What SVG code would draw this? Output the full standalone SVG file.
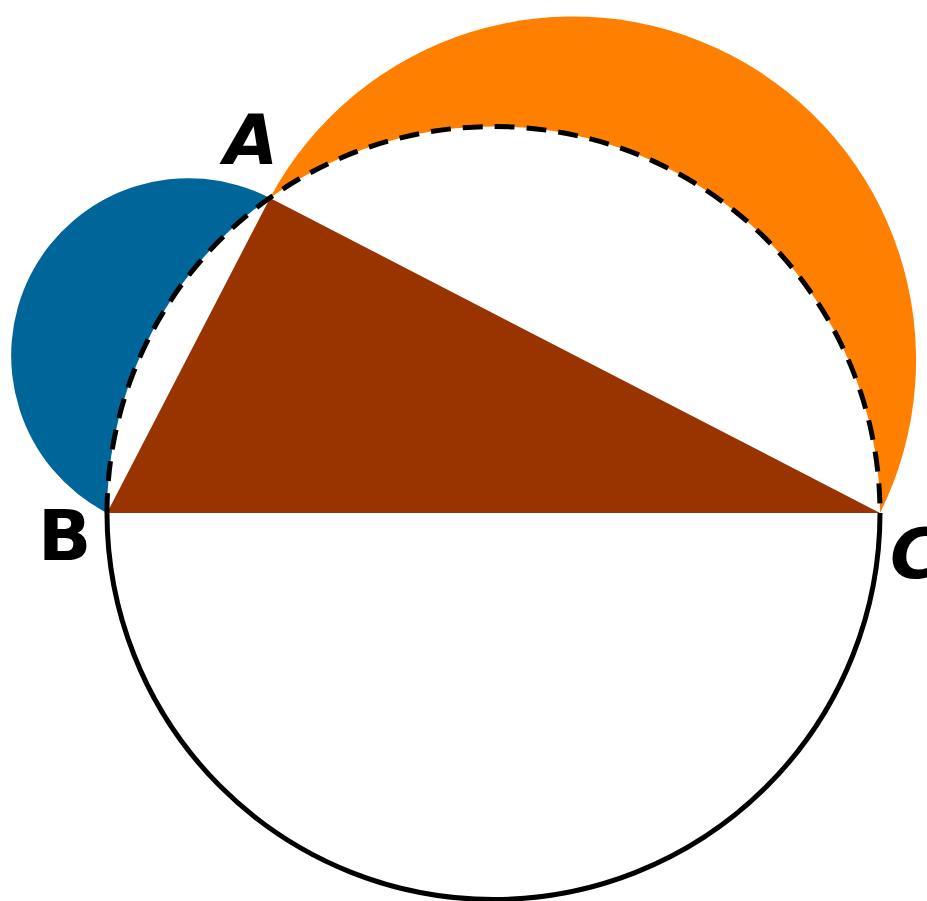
<svg xmlns="http://www.w3.org/2000/svg" width="927" height="901" viewBox="0 0 927 901">
<style>
.lbl{font-family:"DejaVu Sans","Liberation Sans",sans-serif;font-weight:bold;font-size:70px;fill:#000}
.arc{fill:none;stroke:#000;stroke-width:5}
</style>
<rect width="927" height="901" fill="#fff"/>
<g id="lune-ab"><path d="M107,513 A177.3,177.3 0 0 1 270,198 Z" fill="#006699"/></g>
<g id="lune-ac"><path d="M270,198 A343.3,343.3 0 0 1 880,513 Z" fill="#FF8000"/></g>
<g id="circle-fill"><circle cx="493.5" cy="513" r="386.5" fill="#fff"/></g>
<g id="triangle"><path d="M107,513 L270,198 L880,513 Z" fill="#993300"/></g>
<g id="connectors">
<path class="arc" d="M107,513 A386.5,386.5 0 0 1 880,513" stroke-dasharray="20 12"/>
<path class="arc" d="M880,513 A386.5,386.5 0 0 1 107,513"/>
</g>
<g id="label-a"><text class="lbl" x="224" y="164" font-style="italic">A</text></g>
<g id="label-b"><text class="lbl" x="38" y="560">B</text></g>
<g id="label-c"><text class="lbl" x="890" y="578" font-style="italic">C</text></g>
</svg>
